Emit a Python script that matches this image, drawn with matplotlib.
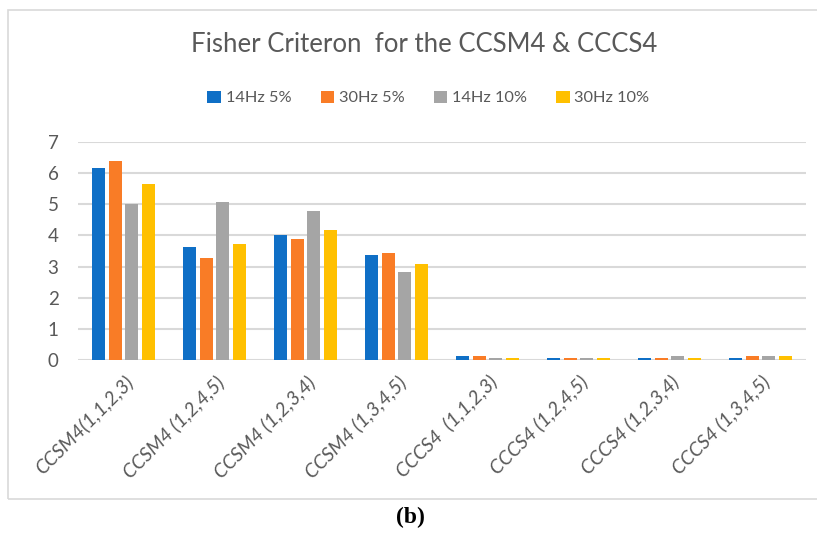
import numpy as np
import matplotlib
matplotlib.use("Agg")
import matplotlib.pyplot as plt
from matplotlib.patches import Rectangle

categories = [
    "CCSM4(1,1,2,3)", "CCSM4 (1,2,4,5)", "CCSM4 (1,2,3,4)", "CCSM4 (1,3,4,5)",
    "CCCS4  (1,1,2,3)", "CCCS4 (1,2,4,5)", "CCCS4 (1,2,3,4)", "CCCS4 (1,3,4,5)",
]
series_names = ["14Hz 5%", "30Hz 5%", "14Hz 10%", "30Hz 10%"]
hz14_5 = [6.17, 3.64, 4.01, 3.37, 0.13, 0.08, 0.08, 0.08]
hz30_5 = [6.39, 3.27, 3.90, 3.42, 0.13, 0.08, 0.08, 0.13]
hz14_10 = [5.02, 5.06, 4.77, 2.82, 0.08, 0.08, 0.13, 0.13]
hz30_10 = [5.65, 3.71, 4.18, 3.07, 0.08, 0.08, 0.08, 0.13]
colors = ["#0F6FC6", "#F97C26", "#A5A5A5", "#FFC000"]

plt.rcParams["font.family"] = ["Lato", "DejaVu Sans"]
text_color = "#595959"

fig = plt.figure(figsize=(8.17, 5.38), dpi=100)
fig.patches.append(Rectangle((8 / 817, 1 - 499 / 538), 1.0, (499 - 10) / 538,
                             transform=fig.transFigure, fill=False,
                             edgecolor="#D9D9D9", linewidth=1.2))

ax = fig.add_axes([78 / 817, 1 - 360 / 538, (806 - 78) / 817, (360 - 142) / 538])
x = np.arange(len(categories))
step = 0.182
width = 0.145
all_series = [hz14_5, hz30_5, hz14_10, hz30_10]
for i, (vals, name, c) in enumerate(zip(all_series, series_names, colors)):
    ax.bar(x + (i - 1.5) * step, vals, width, color=c, label=name, zorder=3)

ax.set_xlim(-0.5, len(categories) - 0.5)
ax.set_ylim(0, 7)
ax.set_yticks(range(0, 8))
ax.yaxis.grid(True, color="#D9D9D9", linewidth=1.5, zorder=0)
for s in ax.spines.values():
    s.set_visible(False)
ax.tick_params(axis="both", length=0, labelcolor=text_color, labelsize=13.5)
ax.tick_params(axis="y", pad=14)
ax.set_xticks(x)
ax.set_xticklabels(categories, rotation=45, ha="right", rotation_mode="anchor",
                   fontstyle="italic", fontsize=14)
ax.tick_params(axis="x", pad=9)

fig.text(0.5196, 1 - 45 / 538, "Fisher Criteron  for the CCSM4 & CCCS4",
         ha="center", va="center", fontsize=18.5, color=text_color)
ax.legend(loc="center", bbox_to_anchor=(0.4815, (360 - 98) / (360 - 142)), ncol=4,
          frameon=False, fontsize=11.8, handlelength=0.8, handleheight=0.8,
          handletextpad=0.3, columnspacing=1.8, labelcolor=text_color)

fig.text(0.502, 1 - 517 / 538, "(b)", ha="center", va="center", fontsize=17,
         fontweight="bold", family="Liberation Serif", color="black")

fig.savefig("out.png", dpi=100)
plt.close(fig)
